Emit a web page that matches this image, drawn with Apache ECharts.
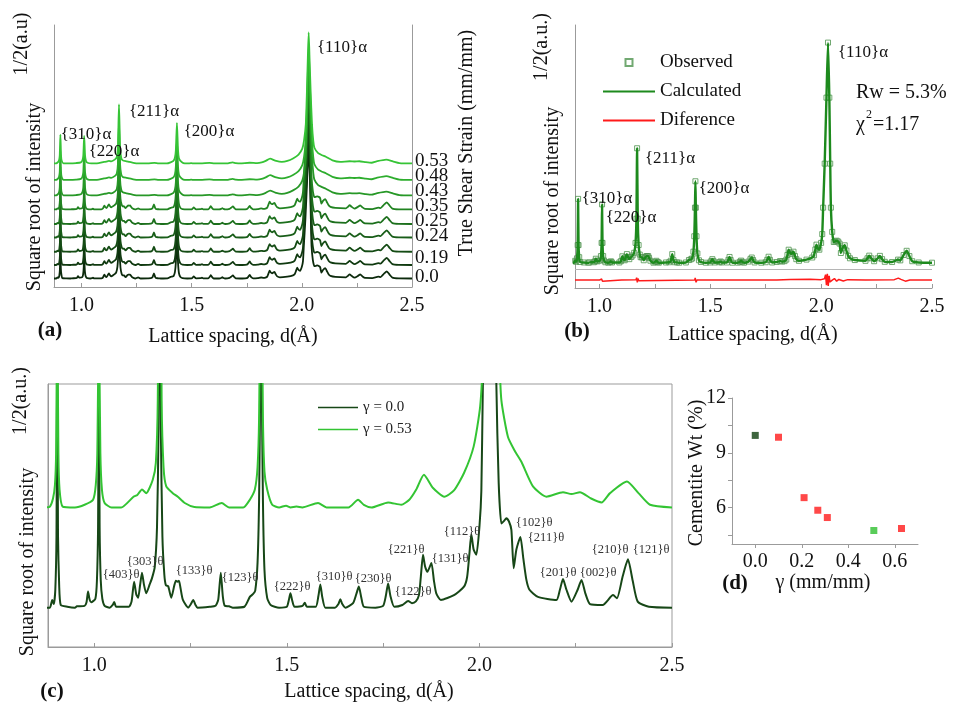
<!DOCTYPE html>
<html>
<head>
<meta charset="utf-8">
<title>Diffraction patterns</title>
<script src="https://cdn.jsdelivr.net/npm/echarts@6/dist/echarts.min.js"></script>
<style>
  html, body { margin: 0; padding: 0; background: #fff; }
  #main { width: 961px; height: 704px; }
</style>
</head>
<body>
<div id="main"></div>
<script>
// sqrt intensity vs lattice spacing, {110} peak = 100 (c) and (b)
const profileGamma0 = [
  [0.875,0],[0.885,0],[0.891,0.86],[0.895,0.4],[0.899,2],[0.902,8],[0.904,29],[0.906,8],[0.909,2.5],[0.913,0.3],
  [0.93,0.1],[0.95,0],[0.955,0.15],[0.975,0.2],[0.98,0.6],[0.984,1.8],[0.988,0.9],[0.992,0.6],[1.003,1],[1.007,3],
  [1.01,9],[1.012,26.5],[1.014,9],[1.017,3],[1.021,1],[1.027,0.2],[1.04,0],[1.048,0.3],[1.052,0.64],[1.057,0.1],
  [1.09,0.1],[1.097,0.7],[1.1036,2.9],[1.109,1.5],[1.114,1.1],[1.119,2.5],[1.124,3.9],[1.129,2.6],[1.135,1.6],[1.144,2.6],
  [1.15,3.3],[1.157,4.5],[1.163,9],[1.167,20],[1.17,52],[1.173,20],[1.177,8],[1.182,3.7],[1.186,2.5],[1.192,2.4],
  [1.2,1.1],[1.208,2.5],[1.212,3.0],[1.216,2.9],[1.22,3.0],[1.224,2.2],[1.23,0.9],[1.244,0],[1.251,0.4],[1.257,0.86],
  [1.263,0.3],[1.268,0],[1.3,0.1],[1.315,0.2],[1.322,0.9],[1.3286,3.9],[1.334,1.2],[1.339,0.2],[1.35,0.15],[1.36,0],
  [1.39,0.1],[1.404,1.2],[1.412,1.5],[1.418,1.9],[1.424,5],[1.428,12],[1.431,25],[1.433,37],[1.435,25],[1.438,12],
  [1.442,4.2],[1.449,1.1],[1.458,0.3],[1.48,0],[1.5,0.1],[1.505,0.8],[1.5094,1.6],[1.514,0.8],[1.52,0.1],[1.541,0.2],
  [1.5466,0.56],[1.552,0.1],[1.575,0.1],[1.582,1.3],[1.587,2.6],[1.592,1.2],[1.6,0],[1.625,0],[1.634,0.4],[1.639,0.94],
  [1.644,0.4],[1.652,0],[1.672,0.5],[1.681,1.6],[1.687,2.35],[1.693,1.2],[1.7,0.1],[1.73,0],[1.75,0.2],[1.757,1.3],
  [1.763,2.7],[1.769,1.3],[1.779,0.1],[1.8,0.3],[1.815,0.75],[1.825,0.5],[1.835,0.7],[1.843,1.4],[1.848,3.5],[1.8536,5.9],
  [1.859,4.6],[1.865,4.0],[1.8754,5.0],[1.882,3.0],[1.888,1.6],[1.9,0.86],[1.934,1.4],[1.96,2.35],[1.968,3.4],[1.974,6],
  [1.979,8.2],[1.985,6.5],[1.992,5.9],[2.0,9],[2.005,13],[2.009,25],[2.016,45],[2.024,75],[2.031,100],[2.037,75],
  [2.041,45],[2.044,25],[2.05,14],[2.057,9.4],[2.064,9.7],[2.07,10],[2.077,9.6],[2.083,8.7],[2.089,4.4],[2.096,6.5],
  [2.1064,7.9],[2.114,5.5],[2.122,3.1],[2.13,2.0],[2.152,1.2],[2.2,0.86],[2.209,2.0],[2.217,3.2],[2.226,2.0],[2.239,0.67],
  [2.255,2.0],[2.265,3.1],[2.275,1.6],[2.287,0.4],[2.32,0.3],[2.347,1.4],[2.357,1.05],[2.372,3.5],[2.3857,5.4],[2.398,3.0],
  [2.411,0.67],[2.44,0.1],[2.5,0]
];
const profileGamma053 = [
  [0.875,0],[0.885,0.1],[0.893,1.0],[0.898,2.5],[0.901,6],[0.904,22],[0.907,6],[0.91,2.0],[0.918,0.1],[0.95,0],
  [0.975,0.3],[0.997,0.86],[1.004,2.5],[1.008,6],[1.012,21],[1.016,6],[1.02,2.0],[1.027,0.5],[1.045,0],[1.07,0],
  [1.102,1.2],[1.112,1.4],[1.124,2.0],[1.135,1.6],[1.152,3.1],[1.16,5],[1.165,12],[1.17,45],[1.175,12],[1.18,4.5],
  [1.187,2.35],[1.204,1.6],[1.217,1.2],[1.235,0.5],[1.26,0.05],[1.3,0],[1.331,0.5],[1.35,0],[1.387,0],[1.404,0.86],
  [1.417,2.0],[1.424,4.5],[1.428,10],[1.433,31],[1.438,10],[1.442,4.0],[1.449,2.0],[1.462,0.3],[1.48,0],[1.498,0.2],
  [1.51,0],[1.525,0.1],[1.54,0],[1.581,0.5],[1.603,0],[1.66,0],[1.685,0.86],[1.7,0.3],[1.72,0],[1.763,0.56],
  [1.797,0.3],[1.818,0.86],[1.836,2.0],[1.856,3.65],[1.879,2.2],[1.909,1.2],[1.934,1.9],[1.96,3.85],[1.985,6.8],[2.002,11.3],
  [2.01,17.6],[2.018,30],[2.023,55],[2.027,80],[2.031,100],[2.035,80],[2.04,55],[2.046,30],[2.052,17],[2.057,12],
  [2.074,7.9],[2.092,6.3],[2.109,5.1],[2.139,2.35],[2.174,1.2],[2.217,1.7],[2.239,1.5],[2.261,1.7],[2.29,1.0],[2.317,0.56],
  [2.339,1.6],[2.383,2.9],[2.413,1.6],[2.443,0.3],[2.5,0]
];
// refinement residual, panel (b)
const diffCurve = [
  [0.89,-7.9],[0.9,-7.9],[0.904,-7.3],[0.908,-8.3],[0.912,-7.9],[1.0,-7.9],[1.01,-7.4],[1.014,-8.4],[1.02,-7.9],[1.1,-7.9],
  [1.165,-7.8],[1.168,-6.8],[1.171,-9.0],[1.174,-7.2],[1.178,-8.2],[1.185,-7.9],[1.43,-7.9],[1.432,-6.9],[1.436,-8.9],[1.44,-7.9],
  [1.8,-7.9],[1.86,-7.6],[1.95,-7.5],[2.0,-7.7],[2.015,-7.3],[2.02,-5.4],[2.024,-10.2],[2.028,-5.0],[2.032,-10.6],[2.036,-6.0],
  [2.04,-8.8],[2.05,-7.9],[2.06,-7.2],[2.07,-8.4],[2.08,-7.6],[2.1,-8.3],[2.12,-7.7],[2.2,-7.9],[2.33,-7.7],[2.348,-7.0],
  [2.36,-7.6],[2.38,-8.4],[2.4,-7.9],[2.5,-7.9]
];

const dLabelValues = [1.0, 1.5, 2.0, 2.5];
const dTickValues = [1.0, 1.25, 1.5, 1.75, 2.0, 2.25, 2.5];

const strainLabels = ['0.53', '0.48', '0.43', '0.35', '0.25', '0.24', '0.19', '0.0'];
const strainOffsets = [0, 10.3, 20.4, 31.3, 41.6, 52.7, 63.4, 75.2, 87.8];
const strainProfile = [0, 0, 0, 0, 0, 0, 1, 1, 1];
const lightOffsetC = 11.2;

const cementiteGamma = [0.0, 0.1, 0.21, 0.269, 0.31, 0.51, 0.629];
const cementiteWt = [9.95, 9.85, 6.54, 5.85, 5.45, 4.74, 4.85];
const gammaLabels = [0.0, 0.2, 0.4, 0.6];
const wtLabels = [6, 9, 12];
const wtTicks = [4.5, 6, 7.5, 9, 10.5, 12];

const alphaPeaks = ['{310}α', '{220}α', '{211}α', '{200}α', '{110}α'];
const thetaPeaks = ['{403}θ', '{303}θ', '{133}θ', '{123}θ', '{222}θ', '{310}θ', '{230}θ', '{122}θ',
  '{221}θ', '{131}θ', '{112}θ', '{102}θ', '{211}θ', '{201}θ', '{002}θ', '{210}θ', '{121}θ'];

// styles / layout
const AXIS_GRAY = '#9b9b9b';
const FONT = '"Liberation Serif", "DejaVu Serif", serif';
const strainColors = ['#0c2a0c', '#103a10', '#144b14', '#185d18', '#1c6f1c', '#218321', '#279827', '#2dad2d', '#36c436'];
const cementiteColors = ['#0e3f0e', '#ff1a1a', '#ff1a1a', '#ff1a1a', '#ff1a1a', '#2fbf2f', '#ff1a1a'];
const LINE_ICON = 'path://M0,0L50,0L50,2L0,2Z';
const SQUARE_ICON = 'path://M0,0L10,0L10,10L0,10Z';

function dAxis(grid, min) {
  return {
    type: 'value', gridIndex: grid, min: min, max: 2.5,
    axisLine: { show: true, onZero: false, lineStyle: { color: AXIS_GRAY, width: 1 } },
    axisTick: { show: true, inside: true, length: 4, customValues: dTickValues, lineStyle: { color: AXIS_GRAY } },
    axisLabel: { show: true, customValues: dLabelValues, formatter: v => v.toFixed(1),
      fontFamily: FONT, fontSize: 20, color: '#111', margin: 9 },
    splitLine: { show: false }
  };
}
function plainY(grid, min, max, extra) {
  return Object.assign({
    type: 'value', gridIndex: grid, min: min, max: max,
    axisLine: { show: true, onZero: false, lineStyle: { color: AXIS_GRAY } },
    axisTick: { show: false }, axisLabel: { show: false }, splitLine: { show: false }
  }, extra || {});
}
function txt(text, x, y, size, o) {
  o = o || {};
  const al = o.align || 'center';
  return {
    type: 'text', x: x, y: y, rotation: o.rot || 0, silent: true, z: 100,
    style: {
      text: text, fill: o.color || '#111',
      font: (o.bold ? 'bold ' : '') + size + 'px ' + FONT,
      align: al, verticalAlign: 'middle', textAlign: al, textVerticalAlign: 'middle'
    }
  };
}
const UP = Math.PI / 2;

const chart = echarts.init(document.getElementById('main'));

const series = [];
// (a) stacked patterns for each strain level
strainOffsets.forEach((off, i) => {
  const prof = strainProfile[i] === 0 ? profileGamma0 : profileGamma053;
  series.push({
    name: 'strain' + i, type: 'line', xAxisIndex: 0, yAxisIndex: 0, symbol: 'none', smooth: 0.2,
    silent: true, z: 2 + i,
    lineStyle: { color: strainColors[i], width: 1.8 },
    data: prof.map(p => [p[0], p[1] + off])
  });
});
// (b) refinement
series.push({
  name: 'Observed', type: 'scatter', xAxisIndex: 1, yAxisIndex: 2, symbol: 'rect', symbolSize: 5, silent: true,
  itemStyle: { color: 'rgba(0,0,0,0)', borderColor: '#4f944f', borderWidth: 1 },
  data: profileGamma0
});
series.push({
  name: 'Calculated', type: 'line', xAxisIndex: 1, yAxisIndex: 2, symbol: 'none', smooth: 0.2, silent: true,
  lineStyle: { color: '#1d8a1d', width: 2.4 }, itemStyle: { color: '#1d8a1d' },
  data: profileGamma0,
  markLine: { silent: true, symbol: 'none', label: { show: false },
    lineStyle: { color: '#b5b5b5', type: 'solid', width: 1 }, data: [{ yAxis: -2.9 }] }
});
series.push({
  name: 'Diference', type: 'line', xAxisIndex: 1, yAxisIndex: 2, symbol: 'none', silent: true,
  lineStyle: { color: '#ff1a1a', width: 1.5 }, itemStyle: { color: '#ff1a1a' },
  data: diffCurve
});
// (c) zoomed comparison
series.push({
  name: 'γ = 0.0', type: 'line', xAxisIndex: 2, yAxisIndex: 3, symbol: 'none', smooth: 0.2, silent: true,
  lineStyle: { color: '#174717', width: 2 }, itemStyle: { color: '#174717' },
  data: profileGamma0
});
series.push({
  name: 'γ = 0.53', type: 'line', xAxisIndex: 2, yAxisIndex: 3, symbol: 'none', smooth: 0.2, silent: true,
  lineStyle: { color: '#33c433', width: 2 }, itemStyle: { color: '#33c433' },
  data: profileGamma053.map(p => [p[0], p[1] + lightOffsetC])
});
// (d) cementite content
series.push({
  name: 'cementite', type: 'scatter', xAxisIndex: 3, yAxisIndex: 4, symbol: 'rect', symbolSize: 7, silent: true,
  itemStyle: { color: p => cementiteColors[p.dataIndex] },
  data: cementiteGamma.map((g, i) => [g, cementiteWt[i]])
});

const graphics = [
  // (a)
  txt('Square root of intensity', 35, 197, 20, { rot: UP }),
  txt('1/2(a.u)', 22, 44, 20, { rot: UP }),
  txt('True Shear Strain (mm/mm)', 467, 143, 20, { rot: UP }),
  txt('Lattice spacing, d(Å)', 233, 337, 20),
  txt('(a)', 50, 331, 21, { bold: true }),
  txt(alphaPeaks[0], 86, 135, 17), txt(alphaPeaks[1], 114, 152, 17), txt(alphaPeaks[2], 154, 112, 17),
  txt(alphaPeaks[3], 209, 132, 17), txt(alphaPeaks[4], 342, 48, 17),
  // (b)
  txt('Square root of intensity', 553, 201, 20, { rot: UP }),
  txt('1/2(a.u.)', 542, 47, 20, { rot: UP }),
  txt('Lattice spacing, d(Å)', 753, 335, 20),
  txt('(b)', 577, 332, 21, { bold: true }),
  txt(alphaPeaks[0], 607, 199, 17), txt(alphaPeaks[1], 631, 218, 17), txt(alphaPeaks[2], 670, 159, 17),
  txt(alphaPeaks[3], 724, 189, 17), txt(alphaPeaks[4], 863, 53, 17),
  txt('Rw = 5.3%', 856, 93, 20, { align: 'left' }),
  txt('χ', 856, 125, 20, { align: 'left' }),
  txt('2', 866, 115, 12, { align: 'left' }),
  txt('=1.17', 873, 125, 20, { align: 'left' }),
  // (c)
  txt('Square root of intensity', 28, 562, 20, { rot: UP }),
  txt('1/2(a.u.)', 21, 401, 20, { rot: UP }),
  txt('Lattice spacing, d(Å)', 369, 692, 20),
  txt('(c)', 52, 692, 21, { bold: true }),
  // (d)
  txt('Cementite Wt (%)', 697, 473, 20, { rot: UP }),
  txt('γ (mm/mm)', 823, 583, 20),
  txt('(d)', 735, 584, 21, { bold: true })
];
const strainLabelY = [161, 176, 191, 206, 221, 236, 258, 277];
strainLabels.forEach((s, i) => graphics.push(txt(s, 415, strainLabelY[i], 19, { align: 'left' })));
const thetaPos = [[121, 575], [145, 562], [194, 571], [240, 578], [292, 587], [334, 577], [373, 579], [413, 592],
  [406, 550], [450, 559], [462, 532], [534, 523], [546, 538], [558, 573], [598, 573], [610, 550], [651, 550]];
thetaPeaks.forEach((s, i) => graphics.push(txt(s, thetaPos[i][0], thetaPos[i][1], 12.5, { color: '#333' })));

const option = {
  animation: false,
  backgroundColor: '#fff',
  grid: [
    { left: 54, top: 25, width: 358, height: 262 },
    { left: 575, top: 25, width: 357, height: 263 },
    { left: 48, top: 384, width: 624, height: 263, show: true, borderColor: AXIS_GRAY, borderWidth: 1 },
    { left: 732, top: 398, width: 186, height: 146 }
  ],
  xAxis: [
    dAxis(0, 0.875),
    dAxis(1, 0.89),
    dAxis(2, 0.88),
    {
      type: 'value', gridIndex: 3, min: -0.1, max: 0.7,
      axisLine: { show: true, onZero: false, lineStyle: { color: AXIS_GRAY } },
      axisTick: { show: true, length: 4, customValues: gammaLabels, lineStyle: { color: AXIS_GRAY } },
      axisLabel: { customValues: gammaLabels, formatter: v => v.toFixed(1), fontFamily: FONT, fontSize: 20, color: '#111', margin: 8 },
      splitLine: { show: false }
    }
  ],
  yAxis: [
    plainY(0, -6.5, 193.5),
    plainY(0, -6.5, 193.5, { position: 'right' }),
    plainY(1, -11.5, 108),
    plainY(2, -4.4, 25),
    plainY(3, 4, 12, {
      axisTick: { show: true, length: 4, customValues: wtTicks, lineStyle: { color: AXIS_GRAY } },
      axisLabel: { show: true, customValues: wtLabels, fontFamily: FONT, fontSize: 20, color: '#111', margin: 6 }
    })
  ],
  legend: [
    {
      left: 598, top: 48, orient: 'vertical', itemWidth: 52, itemHeight: 7, itemGap: 10,
      selectedMode: false,
      textStyle: { fontFamily: FONT, fontSize: 19, color: '#111' },
      data: [
        { name: 'Observed', icon: SQUARE_ICON },
        { name: 'Calculated', icon: LINE_ICON },
        { name: 'Diference', icon: LINE_ICON }
      ]
    },
    {
      left: 313, top: 395, orient: 'vertical', itemWidth: 40, itemHeight: 4, itemGap: 7,
      selectedMode: false,
      textStyle: { fontFamily: FONT, fontSize: 15, color: '#222' },
      data: [{ name: 'γ = 0.0', icon: LINE_ICON }, { name: 'γ = 0.53', icon: LINE_ICON }]
    }
  ],
  graphic: { elements: graphics },
  series: series
};
chart.setOption(option);
</script>
</body>
</html>
